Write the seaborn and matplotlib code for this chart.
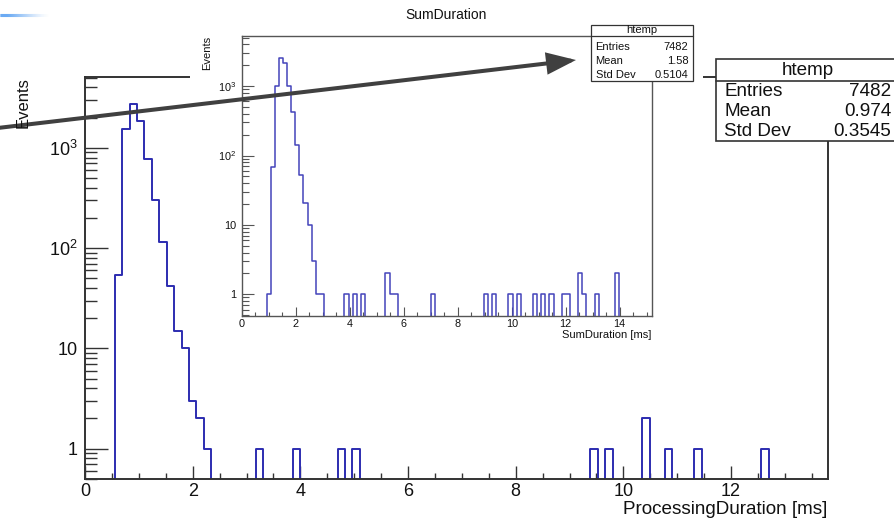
import numpy as np
import pandas as pd
import matplotlib
matplotlib.use("Agg")
import matplotlib.pyplot as plt
import seaborn as sns
from matplotlib.patches import Rectangle, FancyArrowPatch, ArrowStyle
from matplotlib.collections import LineCollection
from matplotlib.ticker import FixedLocator, MultipleLocator, LogLocator, NullFormatter

# ---------------------------------------------------------------------------
# Data
# ---------------------------------------------------------------------------
# ProcessingDuration: 100 bins of 0.138 ms starting at 0 (non-empty bins only)
proc_n_bins = 100
proc_bin_width = 0.138
proc_bins = [4, 5, 6, 7, 8, 9, 10, 11, 12, 13, 14, 15, 16,
             23, 28, 34, 36, 68, 70, 75, 78, 82, 91]
proc_counts = [54, 1525, 2759, 1860, 780, 305, 115, 42, 15, 10, 3, 2, 1,
               1, 1, 1, 1, 1, 1, 2, 1, 1, 1]
proc_mean = "0.974"
proc_std = "0.3545"

# SumDuration: 100 bins of 0.152 ms starting at 0 (non-empty bins only)
sum_n_bins = 100
sum_bin_width = 0.152
sum_bins = [6, 7, 8, 9, 10, 11, 12, 13, 14, 15, 16, 17, 18, 19,
            25, 27, 29, 35, 36, 37, 46, 59, 61, 65, 67, 71, 73, 75,
            78, 79, 82, 83, 86, 91]
sum_counts = [1, 68, 1000, 2552, 2180, 1010, 420, 140, 52, 21, 10, 3, 1, 1,
              1, 1, 1, 2, 1, 1, 1, 1, 1, 1, 1, 1, 1, 1,
              1, 1, 2, 1, 1, 2]
sum_mean = "1.58"
sum_std = "0.5104"

proc_xticks = [0, 2, 4, 6, 8, 10, 12]
sum_xticks = [0, 2, 4, 6, 8, 10, 12, 14]
y_ticks = [1, 10, 100, 1000]
y_tick_labels = ["1", "10", "$10^{2}$", "$10^{3}$"]

# ---------------------------------------------------------------------------
# Style
# ---------------------------------------------------------------------------
sns.set_style("white")
plt.rcParams["font.family"] = ["Liberation Sans", "DejaVu Sans"]
plt.rcParams["mathtext.default"] = "regular"

W, H = 894, 519
FRAME = "#333333"
TEXT = "#111111"


def rect(x0, y0, x1, y1):
    """Figure-fraction rectangle from pixel corners (origin top-left)."""
    return [x0 / W, 1 - y1 / H, (x1 - x0) / W, (y1 - y0) / H]


def hist_frame(n_bins, width, bins, counts):
    edges = np.arange(n_bins + 1) * width
    full = np.zeros(n_bins)
    full[np.asarray(bins)] = counts
    centers = edges[:-1] + width / 2
    return pd.DataFrame({"duration": centers, "events": full}), edges.tolist()


def style_axes(ax, xmax, ylim, xticks, xlen, ylen, labelsize, xpad, ypad,
               spine_color, spine_w, tick_w):
    ax.set_yscale("log")
    ax.set_xlim(0, xmax)
    ax.set_ylim(*ylim)
    ax.xaxis.set_major_locator(FixedLocator(xticks))
    ax.set_xticklabels([str(t) for t in xticks])
    ax.xaxis.set_minor_locator(MultipleLocator(0.5))
    ax.yaxis.set_major_locator(FixedLocator(y_ticks))
    ax.set_yticklabels(y_tick_labels)
    ax.yaxis.set_minor_locator(LogLocator(base=10, subs=np.arange(2, 10)))
    ax.yaxis.set_minor_formatter(NullFormatter())
    ax.tick_params(which="both", bottom=True, left=True, top=False, right=False)
    ax.tick_params(axis="x", which="major", direction="in", length=xlen[0],
                   width=tick_w, color=spine_color, pad=xpad,
                   labelsize=labelsize, labelcolor=TEXT)
    ax.tick_params(axis="x", which="minor", direction="in", length=xlen[1],
                   width=tick_w, color=spine_color)
    ax.tick_params(axis="y", which="major", direction="in", length=ylen[0],
                   width=tick_w, color=spine_color, pad=ypad,
                   labelsize=labelsize, labelcolor=TEXT)
    ax.tick_params(axis="y", which="minor", direction="in", length=ylen[1],
                   width=tick_w, color=spine_color)
    ax.set_xlabel("")
    ax.set_ylabel("")
    for s in ax.spines.values():
        s.set_visible(True)
        s.set_color(spine_color)
        s.set_linewidth(spine_w)


fig = plt.figure(figsize=(W / 100, H / 100), dpi=100)
fig.patch.set_facecolor("white")

# ---------------------------------------------------------------------------
# Main histogram: ProcessingDuration
# ---------------------------------------------------------------------------
ax = fig.add_axes(rect(85, 77, 828, 479.3), zorder=0)
proc_df, proc_edges = hist_frame(proc_n_bins, proc_bin_width, proc_bins, proc_counts)
sns.histplot(data=proc_df, x="duration", weights="events", bins=proc_edges,
             element="step", fill=False, color="#2c2cb0", linewidth=1.4, ax=ax)
style_axes(ax, proc_n_bins * proc_bin_width, (0.495, 5080), proc_xticks,
           xlen=(9.1, 4.3), ylen=(16.6, 8.6), labelsize=13, xpad=3.0, ypad=5.0,
           spine_color=FRAME, spine_w=1.4, tick_w=1.0)

# ---------------------------------------------------------------------------
# Back overlay: white pad that carries the SumDuration histogram
# ---------------------------------------------------------------------------
back = fig.add_axes([0, 0, 1, 1], zorder=1)
back.set_xlim(0, W)
back.set_ylim(H, 0)
back.axis("off")
back.patch.set_alpha(0)
back.add_patch(Rectangle((190, 0), 513, 347, facecolor="white", edgecolor="none"))

# ---------------------------------------------------------------------------
# Inset histogram: SumDuration
# ---------------------------------------------------------------------------
ins = fig.add_axes(rect(242, 36, 652, 315.7), zorder=2)
ins.set_facecolor("white")
sum_df, sum_edges = hist_frame(sum_n_bins, sum_bin_width, sum_bins, sum_counts)
sns.histplot(data=sum_df, x="duration", weights="events", bins=sum_edges,
             element="step", fill=False, color="#4444bb", linewidth=1.1, ax=ins)
style_axes(ins, sum_n_bins * sum_bin_width, (0.492, 5270), sum_xticks,
           xlen=(6.5, 2.9), ylen=(8.4, 5.0), labelsize=7.8, xpad=2.5, ypad=4.0,
           spine_color="#555555", spine_w=1.0, tick_w=0.8)

# ---------------------------------------------------------------------------
# Front overlay: labels, statistics boxes and the arrow
# ---------------------------------------------------------------------------
top = fig.add_axes([0, 0, 1, 1], zorder=3)
top.set_xlim(0, W)
top.set_ylim(H, 0)
top.axis("off")
top.patch.set_alpha(0)

# axis titles
top.text(827, 514.5, "ProcessingDuration [ms]", ha="right", va="baseline",
         fontsize=13.6, color=TEXT)
top.text(23, 77, "Events", rotation=90, ha="center", va="top",
         fontsize=12, color=TEXT)
top.text(446, 19, "SumDuration", ha="center", va="baseline",
         fontsize=10, color=TEXT)
top.text(651.5, 338, "SumDuration [ms]", ha="right", va="baseline",
         fontsize=8, color=TEXT)
top.text(207, 36, "Events", rotation=90, ha="center", va="top",
         fontsize=8, color=TEXT)


def stats_box(x0, y0, x1, y1, ydiv, header_base, rows, row_bases,
              xl, xr, fs, lw):
    top.add_patch(Rectangle((x0, y0), x1 - x0, y1 - y0, facecolor="white",
                            edgecolor=FRAME, linewidth=lw))
    top.plot([x0, x1], [ydiv, ydiv], color=FRAME, linewidth=lw)
    top.text((x0 + x1) / 2, header_base, "htemp", ha="center", va="baseline",
             fontsize=fs, color=TEXT)
    for (name, value), yb in zip(rows, row_bases):
        top.text(xl, yb, name, ha="left", va="baseline", fontsize=fs, color=TEXT)
        top.text(xr, yb, value, ha="right", va="baseline", fontsize=fs, color=TEXT)


proc_entries = str(int(round(sum(proc_counts))))
sum_entries = str(int(round(sum(sum_counts))))

stats_box(590.7, 24.7, 693.3, 80.7, 35.5, 33.3,
          [("Entries", sum_entries), ("Mean", sum_mean), ("Std Dev", sum_std)],
          [49.5, 63.5, 77.5], 595.5, 688.5, 8, 0.9)
stats_box(715.5, 58.5, 900, 140.7, 80.5, 75,
          [("Entries", proc_entries), ("Mean", proc_mean), ("Std Dev", proc_std)],
          [96, 116, 136], 724.5, 891.5, 13.6, 1.2)

# arrow pointing from the main statistics region to the inset statistics box
arrow = FancyArrowPatch(posA=(-10, 128.9), posB=(576, 60),
                        arrowstyle=ArrowStyle("-|>", head_length=16, head_width=6),
                        mutation_scale=1, linewidth=2.9, color="#404040",
                        shrinkA=0, shrinkB=0, joinstyle="miter")
top.add_patch(arrow)

# faded blue streak in the top-left corner
xs = np.linspace(0, 48, 49)
segs = [[(xs[i], 14.5), (xs[i + 1], 14.5)] for i in range(len(xs) - 1)]
alphas = np.clip(1.15 - xs[:-1] / 42, 0, 1) ** 1.5
cols = [(0.23, 0.56, 0.94, a) for a in alphas]
top.add_collection(LineCollection(segs, colors=cols, linewidths=2.2))

fig.savefig("out.png", dpi=100, facecolor="white")
